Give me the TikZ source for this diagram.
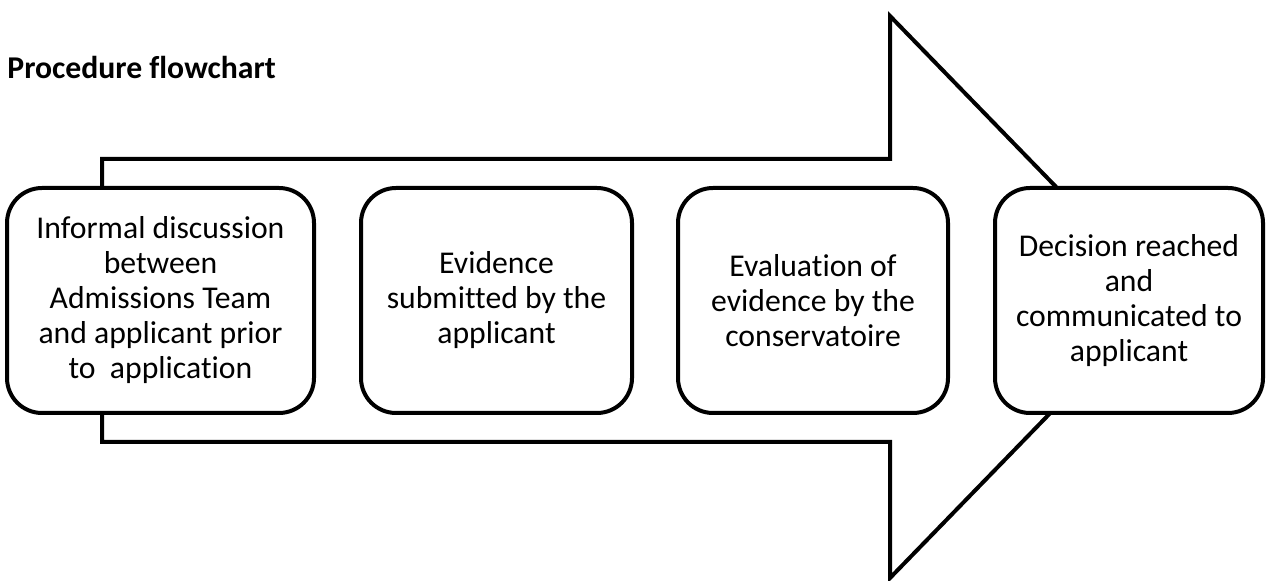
\documentclass[tikz,border=0pt]{standalone}
\usepackage{fontspec}
\setmainfont{Carlito}[Ligatures={NoCommon}]
\tikzset{stage/.style={draw, fill=white, line width=2pt,
    rounded corners=17.5pt, minimum height=112.5pt, inner sep=2pt,
    align=center, font=\fontsize{15.85pt}{17.5pt}\selectfont},
  shaft/.style={draw, fill=white, line width=2pt}
}

\begin{document}
\begin{tikzpicture}[x=0.5pt,y=-0.5pt]
                \useasboundingbox (0,0) rectangle (1267,581);
                
                % Big arrow
                \draw[shaft] (102,159) -- (890,159) -- (890,16) -- (1163,297)
                    -- (890,578) -- (890,442) -- (102,442) -- cycle;
                
                % Stages
                \node[stage, minimum width=153.5pt] (discuss) at (160.5,300.5)
                    {Informal discussion\\between\\Admissions Team\\and applicant prior\\to\ \ application};
                
                \node[stage, minimum width=135.5pt] (evidence) at (496.5,300.5)
                    {Evidence\\submitted by the\\applicant};
                
                \node[stage, minimum width=135pt] (evaluate) at (813,300.5)
                    {Evaluation of\\evidence by the\\conservatoire};
                
                \node[stage, minimum width=134pt] (decision) at (1129,300.5)
                    {Decision reached\\and\\communicated to\\applicant};
                
                % Title
                \node[anchor=base west, inner sep=0pt,
                    font=\fontsize{15.85pt}{17.5pt}\selectfont\bfseries] (title) at (7,79) {Procedure flowchart};
            \end{tikzpicture}
\end{document}
